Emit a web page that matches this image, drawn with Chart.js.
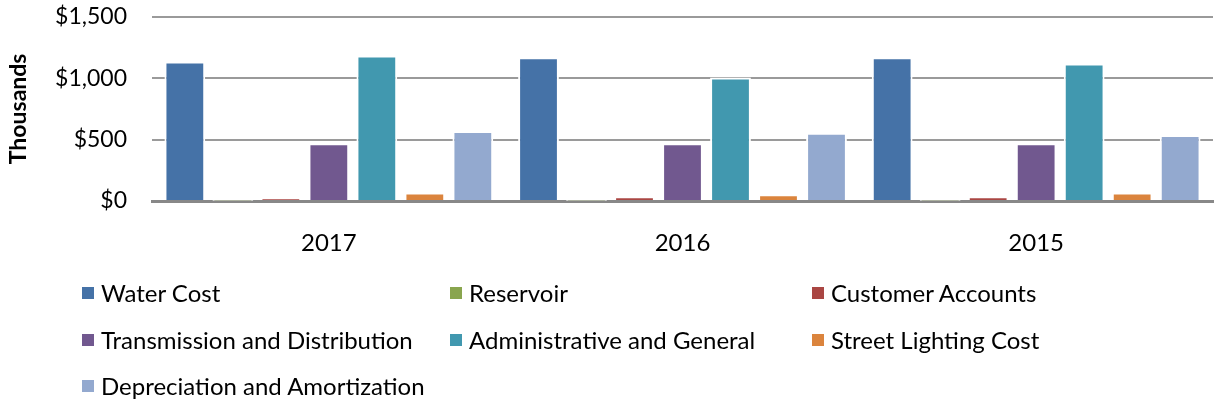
<!DOCTYPE html>
<html>
<head>
<meta charset="utf-8">
<script src="https://cdn.jsdelivr.net/npm/chart.js@4.4.0/dist/chart.umd.min.js"></script>
<style>
  body { margin: 0; background: #fff; font-family: Lato, "Open Sans", sans-serif; }
  #wrap { position: relative; width: 1215px; height: 405px; }
  #chartBox { position: absolute; left: 0; top: 0; width: 1215px; height: 262px; }
  #legend { position: absolute; left: 0; top: 0; width: 1215px; height: 405px; pointer-events: none; }
  .item { position: absolute; display: flex; align-items: center; font-size: 24px; color: #000; white-space: nowrap; line-height: 26px; }
  .box { width: 12px; height: 12px; margin-right: 7px; }
</style>
</head>
<body>
<div id="wrap">
  <div id="chartBox"><canvas id="costChart"></canvas></div>
  <div id="legend"></div>
</div>
<script>
// años y series (miles de dólares)
var years = ["2017", "2016", "2015"];
var seriesNames = [
    "Water Cost",
    "Reservoir",
    "Customer Accounts",
    "Transmission and Distribution",
    "Administrative and General",
    "Street Lighting Cost",
    "Depreciation and Amortization"
];
var waterCost = [1135, 1170, 1170];
var reservoir = [2, 2, 2];
var customerAccounts = [20, 37, 37];
var transmission = [470, 470, 470];
var adminGeneral = [1185, 1005, 1120];
var streetLighting = [70, 55, 70];
var depreciation = [570, 555, 537];
var yTicks = [0, 500, 1000, 1500];

var colors = ["#4572A7", "#89A54E", "#AA4643", "#71588F", "#4198AF", "#DB843D", "#93A9CF"];
var values = [waterCost, reservoir, customerAccounts, transmission, adminGeneral, streetLighting, depreciation];

var datasets = seriesNames.map(function (name, i) {
    return {
        label: name,
        data: values[i],
        backgroundColor: colors[i],
        borderColor: "#ffffff",
        borderWidth: { top: 2, left: 2, right: 2, bottom: 0 },
        borderSkipped: false,
        categoryPercentage: 0.95,
        barPercentage: 0.85
    };
});

var ctx = document.getElementById("costChart");
var chart = new Chart(ctx, {
    type: "bar",
    data: { labels: years, datasets: datasets },
    options: {
        responsive: true,
        maintainAspectRatio: false,
        animation: false,
        layout: { padding: { top: 7, right: 2, left: 0, bottom: 0 } },
        plugins: { legend: { display: false }, tooltip: { enabled: false } },
        scales: {
            x: {
                grid: { display: false, drawTicks: false },
                border: { display: true, color: "#888888", width: 3 },
                ticks: { padding: 28, color: "#000", font: { family: "Lato", size: 24 } },
                afterFit: function (scale) { scale.height = 61; }
            },
            y: {
                min: 0,
                max: 1500,
                afterBuildTicks: function (scale) {
                    scale.ticks = yTicks.map(function (v) { return { value: v }; });
                },
                grid: { color: "#9a9a9a", lineWidth: 2, drawTicks: true, tickLength: 22, tickColor: "rgba(0,0,0,0)" },
                border: { display: false },
                ticks: {
                    padding: 3,
                    color: "#000",
                    font: { family: "Lato", size: 23 },
                    callback: function (v) { return "$" + v.toLocaleString("en-US"); }
                },
                title: {
                    display: true,
                    text: "Thousands",
                    color: "#000",
                    font: { family: "Lato", size: 23, weight: "bold" },
                    padding: { top: 5, bottom: 0 }
                },
                afterFit: function (scale) { scale.width = 152; }
            }
        }
    }
});

// leyenda en 3 columnas
var legend = document.getElementById("legend");
var colLeft = [82, 450, 812];
var rowTop = [293, 340, 386];
seriesNames.forEach(function (name, i) {
    var el = document.createElement("div");
    el.className = "item";
    el.style.left = colLeft[i % 3] + "px";
    el.style.top = (rowTop[Math.floor(i / 3)] - 13) + "px";
    el.innerHTML = '<span class="box" style="background:' + colors[i] + '"></span>' + name;
    legend.appendChild(el);
});
</script>
</body>
</html>
